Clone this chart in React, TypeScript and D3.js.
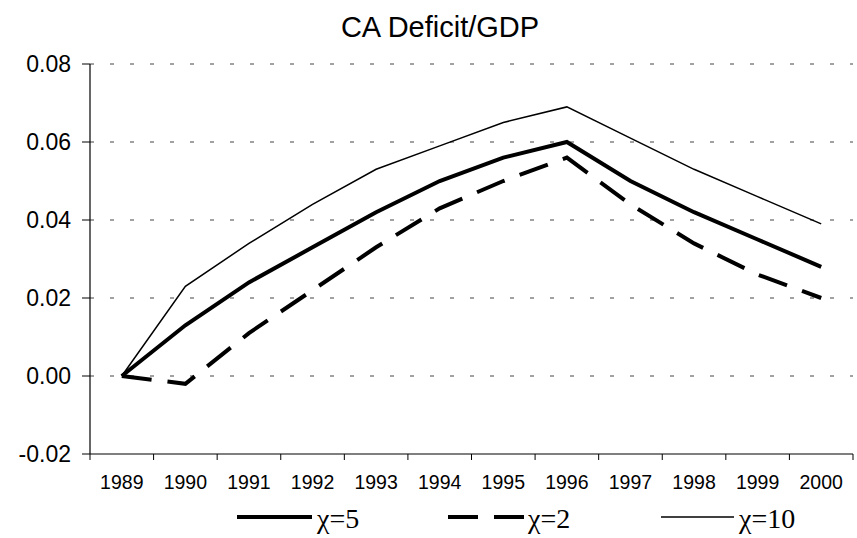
import React from "react";
import * as d3 from "d3";

const years = ["1989","1990","1991","1992","1993","1994","1995","1996","1997","1998","1999","2000"];
const chi5 = [0, 0.013, 0.024, 0.033, 0.042, 0.050, 0.056, 0.060, 0.050, 0.042, 0.035, 0.028];
const chi2 = [0, -0.002, 0.011, 0.022, 0.033, 0.043, 0.050, 0.056, 0.044, 0.034, 0.026, 0.020];
const chi10 = [0, 0.023, 0.034, 0.044, 0.053, 0.059, 0.065, 0.069, 0.061, 0.053, 0.046, 0.039];
const yTicks = [-0.02, 0, 0.02, 0.04, 0.06, 0.08];
const legendLabels = ["χ=5", "χ=2", "χ=10"];

export default function App() {
  const W = 857, H = 538;
  const left = 90, right = 853, top = 64, bottom = 454;
  const x = d3.scaleBand<string>().domain(years).range([left, right]);
  const y = d3.scaleLinear().domain([-0.02, 0.08]).range([bottom, top]);
  const cx = (yr: string) => (x(yr) as number) + x.bandwidth() / 2;
  const line = d3.line<number>().x((_, i) => cx(years[i])).y((v) => y(v));

  const series = [
    { data: chi5, width: 4, dash: undefined as string | undefined },
    { data: chi2, width: 4, dash: "30 16" },
    { data: chi10, width: 1.5, dash: undefined },
  ];
  const legendPos = [
    { x1: 237, x2: 312, tx: 317 },
    { x1: 448, x2: 524, tx: 528 },
    { x1: 661, x2: 734, tx: 739 },
  ];
  const sans = "'Liberation Sans', Arial, sans-serif";
  const serif = "'Liberation Serif', 'Times New Roman', serif";
  const boundaries = d3.range(years.length + 1).map((i) => left + i * x.bandwidth());

  return (
    <svg width={W} height={H} style={{ position: "absolute", left: 0, top: 0, background: "#fff" }}>
      <text x={440} y={37} textAnchor="middle" fontFamily={sans} fontSize={29}>CA Deficit/GDP</text>
      {yTicks.filter((t) => t > -0.02).map((t) => (
        <line key={"g" + t} x1={left} x2={right} y1={y(t)} y2={y(t)} stroke="#444" strokeWidth={1} strokeDasharray="4 16" />
      ))}
      <line x1={left} x2={left} y1={top} y2={bottom} stroke="#000" strokeWidth={1.2} />
      <line x1={left} x2={right} y1={bottom} y2={bottom} stroke="#000" strokeWidth={1.2} />
      {yTicks.map((t) => (
        <g key={"t" + t}>
          <line x1={left - 8} x2={left} y1={y(t)} y2={y(t)} stroke="#000" strokeWidth={1} />
          <text x={71} y={y(t) + 8} textAnchor="end" fontFamily={sans} fontSize={23}>{t.toFixed(2)}</text>
        </g>
      ))}
      {boundaries.map((b, i) => (
        <line key={"b" + i} x1={b} x2={b} y1={bottom} y2={bottom + 6} stroke="#000" strokeWidth={1} />
      ))}
      {years.map((yr) => (
        <text key={yr} x={cx(yr)} y={489} textAnchor="middle" fontFamily={sans} fontSize={19.5}>{yr}</text>
      ))}
      {series.map((s, i) => (
        <path key={"s" + i} d={line(s.data) as string} fill="none" stroke="#000" strokeWidth={s.width}
          strokeDasharray={s.dash} strokeLinejoin="miter" />
      ))}
      {series.map((s, i) => (
        <g key={"l" + i}>
          <line x1={legendPos[i].x1} x2={legendPos[i].x2} y1={517} y2={517} stroke="#000" strokeWidth={s.width}
            strokeDasharray={s.dash} />
          <text x={legendPos[i].tx} y={528} fontFamily={serif} fontSize={28}>{legendLabels[i]}</text>
        </g>
      ))}
    </svg>
  );
}
